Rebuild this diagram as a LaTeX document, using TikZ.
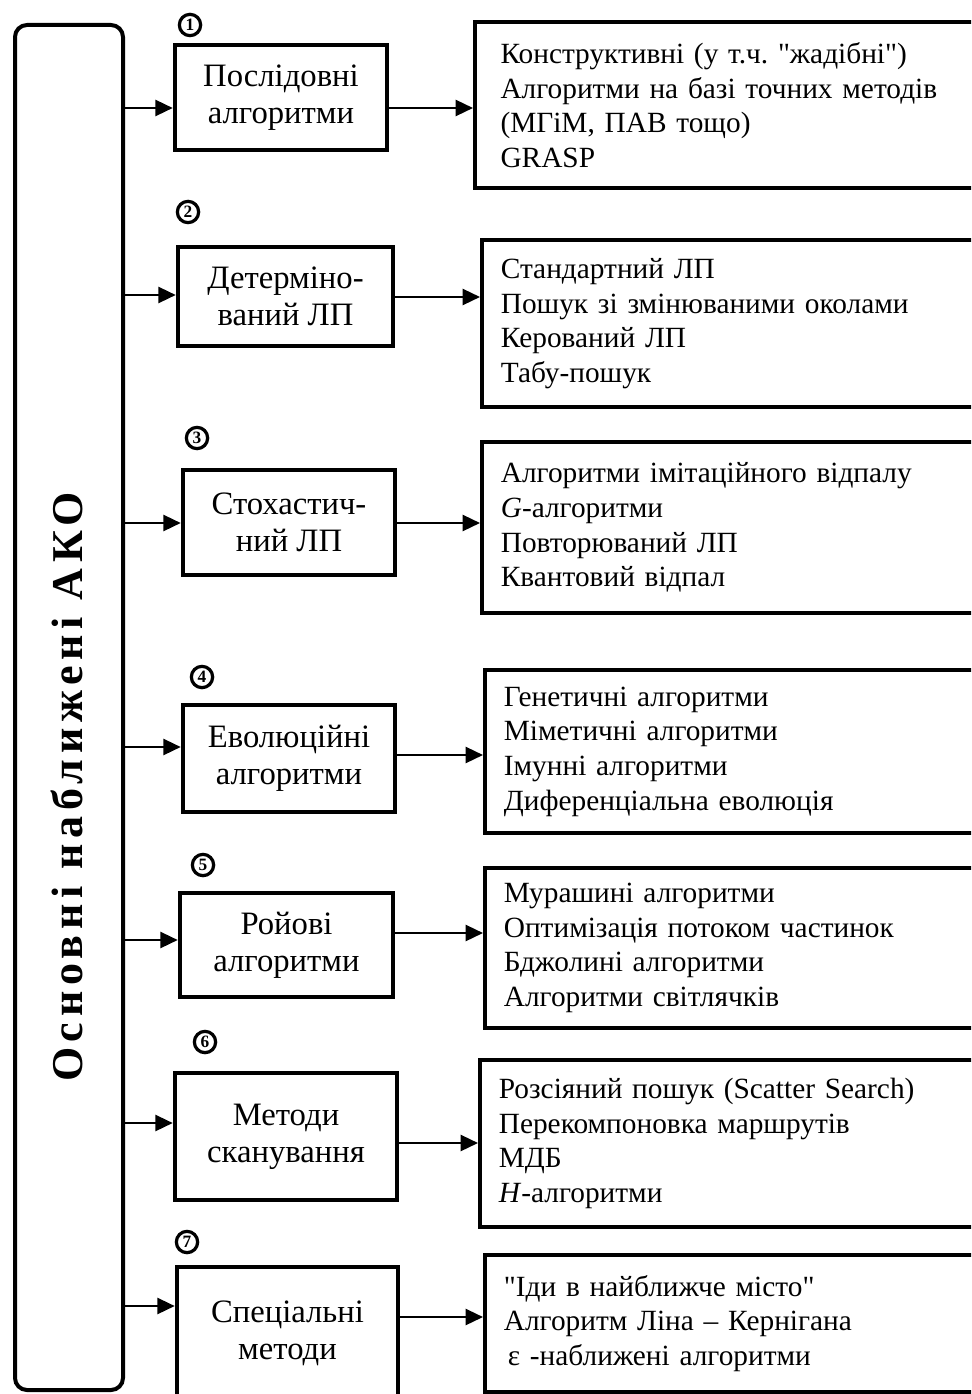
\documentclass[tikz,border=0pt]{standalone}
\usepackage{fontspec}
\setmainfont{Liberation Serif}[Ligatures=TeXOff]
\newfontfamily\vfont[LetterSpace=13,Ligatures=TeXOff]{Liberation Serif}
\usetikzlibrary{arrows.meta}
\frenchspacing
\begin{document}
\begin{tikzpicture}[x=0.75pt,y=-0.75pt,
  mbox/.style={draw, line width=3.4pt, inner sep=0pt, align=center,
    font=\fontsize{24.5}{28}\selectfont},
  rbox/.style={draw, line width=3.3pt, anchor=west, inner xsep=14pt, inner ysep=0pt,
    text width=440pt, align=left, font=\fontsize{22}{26}\selectfont},
  lbox/.style={draw, line width=3pt, rounded corners=9pt, inner sep=0pt},
  num/.style={draw, circle, line width=2.4pt, inner sep=0pt, minimum size=16pt,
    font=\bfseries\fontsize{13}{13}\selectfont},
  arr/.style={line width=1.8pt, -{Triangle[length=13pt,width=12pt]}}
]
\useasboundingbox (0,0) rectangle (971,1394);
\clip (0,0) rectangle (971,1394);

% left box
\node[lbox, minimum width=81pt, minimum height=1023.75pt] (L) at (69,707.5) {};
\node[rotate=90, font=\vfont\bfseries\fontsize{33}{33}\selectfont] (Lt) at (67,787) {Основні наближені АКО};

% middle boxes
\node[mbox, minimum width=159pt, minimum height=78.75pt] (m1) at (281,97.5) {Послідовні\\алгоритми};
\node[mbox, minimum width=161.25pt, minimum height=74.25pt] (m2) at (285.5,296.5) {Детерміно-\\ваний ЛП};
\node[mbox, minimum width=159pt, minimum height=78.75pt] (m3) at (289,522.5) {Стохастич-\\ний ЛП};
\node[mbox, minimum width=159pt, minimum height=80.25pt] (m4) at (289,758.5) {Еволюційні\\алгоритми};
\node[mbox, minimum width=159.75pt, minimum height=78pt] (m5) at (286.5,945) {Ройові\\алгоритми};
\node[mbox, minimum width=166.5pt, minimum height=95.25pt] (m6) at (286,1136.5) {Методи\\сканування};
\node[mbox, minimum width=165.75pt, minimum height=99.75pt] (m7) at (287.5,1333.5) {Спеціальні\\методи};

% numbers
\node[num] (n1) at (190,25) {1};
\node[num] (n2) at (188,212) {2};
\node[num] (n3) at (197,438) {3};
\node[num] (n4) at (202,677) {4};
\node[num] (n5) at (203,865) {5};
\node[num] (n6) at (205,1042) {6};
\node[num] (n7) at (187,1242) {7};

% right boxes
\node[rbox, inner xsep=19pt, minimum height=124.5pt] (r1) at (473,105) {Конструктивні (у т.ч. "жадібні")\\Алгоритми на базі точних методів\\(МГіМ, ПАВ тощо)\\GRASP};
\node[rbox, minimum height=125.25pt] (r2) at (480,323.5) {Стандартний ЛП\\Пошук зі змінюваними околами\\Керований ЛП\\Табу-пошук};
\node[rbox, minimum height=128.25pt] (r3) at (480,527.5) {Алгоритми імітаційного відпалу\\\textit{G}-алгоритми\\Повторюваний ЛП\\Квантовий відпал};
\node[rbox, minimum height=122.25pt] (r4) at (483,751.5) {Генетичні алгоритми\\Міметичні алгоритми\\Імунні алгоритми\\Диференціальна еволюція};
\node[rbox, minimum height=120pt] (r5) at (483,948) {Мурашині алгоритми\\Оптимізація потоком частинок\\Бджолині алгоритми\\Алгоритми світлячків};
\node[rbox, minimum height=125.25pt] (r6) at (478,1143.5) {Розсіяний пошук (Scatter Search)\\Перекомпоновка маршрутів\\МДБ\\\textit{H}-алгоритми};
\node[rbox, minimum height=102.75pt] (r7) at (483,1323.5) {"Іди в найближче місто"\\Алгоритм Ліна – Кернігана\\\hspace*{3pt}ε -наближені алгоритми};

% arrows from left box
\foreach \m/\y in {m1/108, m2/295, m3/523, m4/747, m5/940, m6/1123, m7/1306}
  \draw[arr] (L.east |- 0,\y) -- (\m.west |- 0,\y);
% arrows to right boxes
\foreach \m/\r/\y in {m1/r1/108, m2/r2/297, m3/r3/523, m4/r4/755, m5/r5/933, m6/r6/1143, m7/r7/1317}
  \draw[arr] (\m.east |- 0,\y) -- (\r.west |- 0,\y);
\end{tikzpicture}
\end{document}
